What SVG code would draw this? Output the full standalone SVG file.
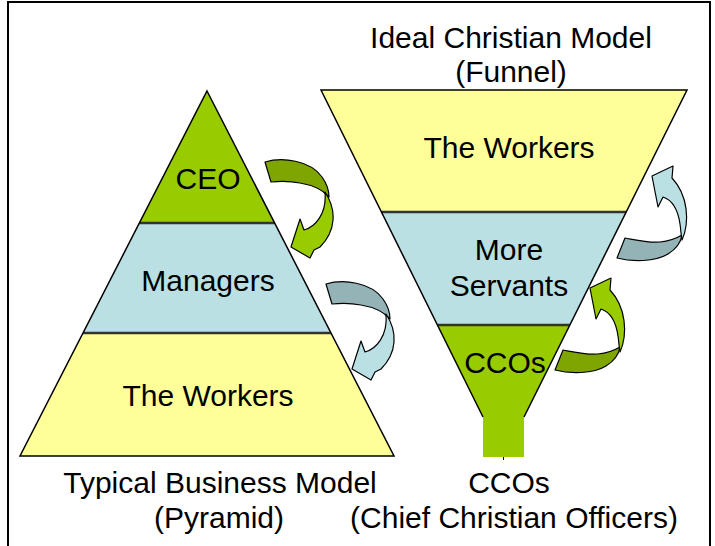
<svg xmlns="http://www.w3.org/2000/svg" width="715" height="546" viewBox="0 0 715 546">
<style>
text{font-family:"Liberation Sans",Arial,sans-serif;font-size:30px;fill:#000;text-anchor:middle}
.edge{fill:none;stroke:#000;stroke-width:1.5;stroke-linejoin:miter}
.sep{stroke:#333;stroke-width:2.5}
.y{fill:#FFFF99}.b{fill:#BBE0E3}.g{fill:#99CC00}
.gd{fill:#7FA600;stroke:#000;stroke-width:1.2;stroke-linejoin:round}
.gl{fill:#99CC00;stroke:#000;stroke-width:1.2;stroke-linejoin:round}
.bd{fill:#94B3B6;stroke:#000;stroke-width:1.2;stroke-linejoin:round}
.bl{fill:#BBE0E3;stroke:#000;stroke-width:1.2;stroke-linejoin:round}
</style>
<rect width="715" height="546" fill="#fff"/>
<path d="M8,546 V2 H710 V546" fill="none" stroke="#000" stroke-width="2"/>

<g id="pyramid">
  <polygon class="g" points="207,91 274.6,223 139.4,223"/>
  <polygon class="b" points="139.4,223 274.6,223 331,333 83,333"/>
  <polygon class="y" points="83,333 331,333 394,456 20,456"/>
  <line class="sep" x1="139.4" y1="223" x2="274.6" y2="223"/>
  <line class="sep" x1="83" y1="333" x2="331" y2="333"/>
  <polygon class="edge" points="207,91 394,456 20,456"/>
</g>
<g id="pyr-ceo"><text x="208" y="189">CEO</text></g>
<g id="pyr-managers"><text x="208" y="291">Managers</text></g>
<g id="pyr-workers"><text x="208" y="406">The Workers</text></g>

<g id="funnel">
  <rect class="g" x="483" y="414" width="41" height="43"/>
  <line x1="503.5" y1="457" x2="503.5" y2="460" stroke="#000" stroke-width="1"/>
  <polygon class="y" points="321,90 687,90 626.2,212 381.4,212"/>
  <polygon class="b" points="381.4,212 626.2,212 569.9,325 437.4,325"/>
  <polygon class="g" points="437.4,325 569.9,325 524,417 483,417"/>
  <line class="sep" x1="381.4" y1="212" x2="626.2" y2="212"/>
  <line class="sep" x1="437.4" y1="325" x2="569.9" y2="325"/>
  <polyline class="edge" points="483,417 321,90 687,90 524,417"/>
</g>
<g id="fun-workers"><text x="509" y="158">The Workers</text></g>
<g id="fun-servants"><text x="509" y="260">More</text><text x="509" y="296">Servants</text></g>
<g id="fun-ccos"><text x="505" y="373">CCOs</text></g>

<g id="connectors">
  <g id="arrow-green-down">
    <path class="gd" d="M265,162 C282,157 310,160 322,177 C327,184 329,191 329,197 C323,190 312,185 300,183 C290,181 280,181 271,182 Z"/>
    <path class="gl" d="M325,192 C337,210 336,231 320,247 L314,250 L310,258 L291,247 L300,219 L304,230 C315,227 327,214 325,192 Z"/>
  </g>
  <g id="arrow-blue-down" transform="translate(61,122)">
    <path class="bd" d="M265,162 C282,157 310,160 322,177 C327,184 329,191 329,197 C323,190 312,185 300,183 C290,181 280,181 271,182 Z"/>
    <path class="bl" d="M325,192 C337,210 336,231 320,247 L314,250 L310,258 L291,247 L300,219 L304,230 C315,227 327,214 325,192 Z"/>
  </g>
  <g id="arrow-blue-up">
    <path class="bd" d="M617,258 C632,262 655,262 668,254 C676,249 681,242 682,235 C677,238 670,241 660,242 C648,243 636,240 625,238 Z"/>
    <path class="bl" d="M682,240 C690,222 688,195 672,178 L673,166 L652,176 L658,207 L663,197 C672,200 678,210 680,224 C681,230 681,236 682,240 Z"/>
  </g>
  <g id="arrow-green-up" transform="translate(-62,112)">
    <path class="gd" d="M617,258 C632,262 655,262 668,254 C676,249 681,242 682,235 C677,238 670,241 660,242 C648,243 636,240 625,238 Z"/>
    <path class="gl" d="M682,240 C690,222 688,195 672,178 L673,166 L652,176 L658,207 L663,197 C672,200 678,210 680,224 C681,230 681,236 682,240 Z"/>
  </g>
</g>

<g id="title-funnel"><text x="511" y="48">Ideal Christian Model</text><text x="511" y="82">(Funnel)</text></g>
<g id="caption-pyramid"><text x="220" y="493">Typical Business Model</text><text x="219" y="528">(Pyramid)</text></g>
<g id="caption-ccos"><text x="509" y="493">CCOs</text><text x="514" y="528">(Chief Christian Officers)</text></g>
</svg>
